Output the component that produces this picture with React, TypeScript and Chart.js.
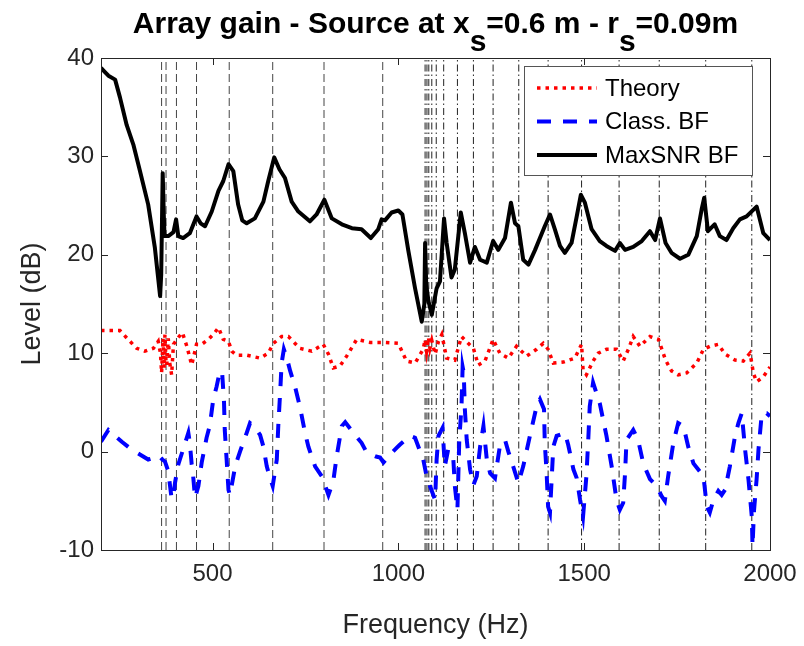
import React, { useEffect, useRef } from 'react';
import { Chart, registerables } from 'chart.js';

Chart.register(...registerables);

// ---------- text ----------
const TITLE_PARTS = [
  { text: 'Array gain - Source at x', sub: false },
  { text: 's', sub: true },
  { text: '=0.6 m - r', sub: false },
  { text: 's', sub: true },
  { text: '=0.09m', sub: false },
];
const X_TITLE = 'Frequency (Hz)';
const Y_TITLE = 'Level (dB)';
const SERIES_LABELS = ['Theory', 'Class. BF', 'MaxSNR BF'];

// ---------- axes ----------
const X_MIN = 200;
const X_MAX = 2000;
const Y_MIN = -10;
const Y_MAX = 40;
const X_TICKS = [500, 1000, 1500, 2000];
const Y_TICKS = [-10, 0, 10, 20, 30, 40];

// ---------- modal frequencies (vertical lines) ----------
const MODES_DASHED = [363, 375, 403, 457, 545, 662, 800, 958];
const MODES_DASHDOT = [1072, 1077, 1082, 1090, 1102, 1122, 1159, 1202, 1255, 1324, 1403, 1493, 1594, 1702, 1827, 1951];

// ---------- Theory ----------
const THEORY_F = [200, 251, 273, 296, 318, 341, 354, 360, 363, 367, 370, 372, 375, 377, 381, 385, 390, 395, 408, 419, 431, 444, 457, 471, 489, 502, 516, 529, 543, 552, 565, 592, 628, 650, 664, 686, 704, 735, 767, 798, 812, 825, 843, 861, 888, 924, 960, 1000, 1022, 1045, 1067, 1072, 1076, 1081, 1085, 1090, 1099, 1108, 1117, 1130, 1152, 1170, 1188, 1202, 1215, 1233, 1255, 1273, 1296, 1318, 1345, 1372, 1390, 1403, 1417, 1444, 1475, 1493, 1497, 1506, 1524, 1538, 1560, 1587, 1605, 1619, 1632, 1650, 1677, 1700, 1719, 1735, 1753, 1776, 1803, 1821, 1838, 1861, 1879, 1906, 1928, 1946, 1951, 1955, 1964, 1982, 2000];
const THEORY_DB = [12.3, 12.3, 11.4, 10.5, 10.2, 10.5, 11.2, 10.0, 8.0, 11.5, 8.5, 11.9, 9.0, 8.8, 11.5, 9.0, 7.8, 10.9, 11.6, 12.1, 10.7, 8.8, 10.9, 10.9, 11.4, 11.9, 12.6, 11.4, 11.2, 10.2, 9.8, 9.8, 9.5, 10.0, 11.0, 11.7, 11.7, 10.5, 10.2, 10.9, 9.9, 8.5, 8.7, 9.7, 11.4, 11.1, 11.1, 11.0, 9.2, 9.0, 10.4, 11.4, 10.2, 11.6, 10.5, 11.3, 9.9, 11.2, 11.9, 9.5, 9.3, 11.7, 11.0, 10.5, 8.8, 9.2, 11.4, 10.0, 9.5, 10.7, 9.7, 10.4, 11.0, 10.4, 9.0, 9.1, 9.5, 10.9, 8.3, 7.8, 9.2, 10.0, 10.4, 10.4, 9.2, 10.4, 11.7, 10.7, 11.7, 11.4, 9.3, 8.2, 7.8, 8.0, 9.0, 10.4, 10.7, 10.9, 9.9, 9.3, 9.2, 10.0, 9.0, 8.0, 7.1, 7.6, 8.6];

// ---------- Class. BF ----------
const CLASS_F = [200, 220, 256, 283, 327, 345, 355, 365, 372, 381, 390, 395, 399, 408, 419, 435, 439, 444, 448, 453, 462, 471, 484, 493, 502, 511, 520, 526, 531, 533, 538, 543, 547, 561, 574, 592, 601, 612, 628, 637, 646, 655, 662, 673, 677, 682, 686, 692, 700, 709, 722, 735, 749, 758, 776, 794, 812, 825, 834, 848, 857, 879, 901, 915, 940, 951, 960, 978, 996, 1004, 1031, 1045, 1054, 1067, 1076, 1085, 1099, 1103, 1108, 1119, 1125, 1134, 1148, 1152, 1159, 1164, 1170, 1173, 1176, 1179, 1184, 1193, 1202, 1211, 1220, 1229, 1238, 1247, 1260, 1273, 1287, 1296, 1309, 1323, 1336, 1354, 1372, 1381, 1392, 1394, 1399, 1403, 1408, 1417, 1426, 1448, 1457, 1471, 1480, 1489, 1497, 1506, 1511, 1515, 1524, 1542, 1560, 1574, 1587, 1596, 1605, 1610, 1614, 1632, 1645, 1659, 1677, 1695, 1708, 1717, 1726, 1740, 1753, 1767, 1780, 1794, 1821, 1830, 1838, 1847, 1861, 1870, 1879, 1892, 1906, 1915, 1924, 1933, 1942, 1951, 1953, 1957, 1964, 1969, 1978, 1991, 2000];
const CLASS_DB = [1.0, 2.2, 1.0, 0.2, -0.8, -0.6, -0.4, -0.8, -1.0, -2.0, -4.8, -4.5, -3.2, -1.3, 0.0, 1.9, 0.9, -1.3, -2.5, -4.7, -3.5, -1.1, 1.4, 2.7, 5.3, 6.6, 8.2, 8.0, 5.0, 2.2, -0.8, -3.9, -4.4, -1.5, 0.0, 1.9, 2.9, 2.6, 1.7, 0.5, -1.5, -2.7, -3.5, -0.8, 2.6, 6.0, 9.0, 10.4, 9.5, 8.2, 6.6, 4.6, 1.9, 0.5, -1.5, -2.5, -4.4, -3.0, -0.5, 2.6, 3.0, 1.9, 0.9, -0.1, -0.5, -0.6, -1.1, -0.3, 0.4, 0.7, 1.6, 1.4, 0.5, -0.8, -2.5, -3.5, -4.9, -0.8, 1.6, 2.4, -1.5, 0.2, -0.8, -3.5, -5.9, 1.2, 4.6, 8.6, 8.0, 4.3, 1.2, -1.8, -3.4, -2.5, 0.5, 2.6, -0.8, -2.2, -2.7, 0.5, 1.2, 0.0, -1.5, -3.2, -1.5, 1.6, 4.6, 5.3, 4.3, 0.9, -2.2, -5.6, -6.2, 0.5, 1.6, 1.9, 0.7, -1.8, -2.7, -4.9, -6.6, -2.5, 1.2, 4.6, 7.0, 4.9, 1.6, -1.5, -4.9, -5.9, -5.2, -2.2, 1.2, 2.2, 1.2, -1.2, -2.8, -3.5, -4.5, -5.0, -2.5, 0.9, 2.9, 2.6, 0.5, -1.2, -2.5, -5.6, -6.2, -5.0, -4.0, -4.4, -3.9, -1.5, 1.6, 2.9, 3.9, 0.2, -2.8, -6.6, -9.6, -6.0, -2.8, 0.2, 3.9, 3.9, 3.6];

// ---------- MaxSNR BF ----------
const MAXSNR_F = [200, 210, 220, 238, 251, 269, 287, 305, 327, 345, 359, 362, 366, 369, 371, 381, 395, 402, 408, 421, 439, 457, 468, 480, 498, 516, 529, 543, 556, 569, 580, 592, 614, 637, 650, 666, 680, 695, 713, 731, 762, 780, 801, 821, 848, 875, 901, 926, 946, 955, 964, 982, 1000, 1011, 1027, 1045, 1063, 1070, 1072, 1075, 1081, 1090, 1103, 1112, 1123, 1130, 1143, 1152, 1168, 1179, 1193, 1206, 1220, 1238, 1255, 1269, 1287, 1303, 1314, 1323, 1336, 1350, 1368, 1381, 1394, 1408, 1421, 1435, 1448, 1466, 1480, 1491, 1502, 1520, 1542, 1560, 1583, 1596, 1610, 1632, 1655, 1677, 1691, 1704, 1719, 1735, 1758, 1780, 1803, 1816, 1823, 1833, 1851, 1865, 1883, 1901, 1919, 1937, 1964, 1982, 2000];
const MAXSNR_DB = [39.0, 38.6, 38.2, 37.8, 36.0, 33.2, 31.2, 28.5, 25.1, 20.7, 15.8, 18.0, 28.3, 24.0, 21.9, 21.9, 22.3, 23.6, 21.9, 21.7, 22.2, 23.9, 23.2, 22.9, 24.4, 26.5, 27.5, 29.2, 28.5, 25.1, 23.5, 23.2, 23.7, 25.4, 27.5, 29.9, 28.7, 27.8, 25.4, 24.4, 23.4, 24.1, 25.6, 23.7, 23.1, 22.7, 22.6, 21.7, 22.6, 23.6, 23.5, 24.3, 24.5, 24.1, 20.4, 16.6, 13.2, 15.0, 21.2, 17.0, 15.3, 13.9, 16.6, 17.3, 23.7, 21.2, 17.7, 18.5, 24.3, 22.2, 19.2, 20.8, 19.5, 19.2, 21.4, 20.5, 21.7, 25.3, 23.2, 22.9, 19.5, 19.0, 20.5, 21.7, 22.9, 24.1, 22.6, 20.9, 20.2, 21.2, 23.9, 26.1, 25.3, 22.6, 21.4, 20.9, 20.4, 21.2, 20.5, 20.8, 21.4, 22.4, 21.5, 23.7, 21.2, 20.2, 19.6, 20.0, 21.9, 24.6, 25.8, 22.4, 23.1, 21.9, 21.5, 22.7, 23.6, 23.9, 24.9, 22.2, 21.5];

const FONT = '"Liberation Sans", Arial, Helvetica, sans-serif';
const AXIS_COLOR = '#262626';

const toPoints = (xs: number[], ys: number[]) => xs.map((x, i) => ({ x, y: ys[i] }));

const titlePlugin = {
  id: 'subscriptTitle',
  afterDraw(chart: any) {
    const { ctx, chartArea } = chart;
    ctx.save();
    ctx.font = `bold 30px ${FONT}`;
    ctx.fillStyle = '#000';
    ctx.textBaseline = 'alphabetic';
    ctx.textAlign = 'left';
    const widths = TITLE_PARTS.map((p) => ctx.measureText(p.text).width);
    const total = widths.reduce((a, b) => a + b, 0);
    let x = (chartArea.left + chartArea.right) / 2 - total / 2;
    TITLE_PARTS.forEach((p, i) => {
      ctx.fillText(p.text, x, p.sub ? 51 : 33);
      x += widths[i];
    });
    ctx.restore();
  },
};

const boxPlugin = {
  id: 'matlabBox',
  afterDatasetsDraw(chart: any) {
    const { ctx, chartArea, scales } = chart;
    const { left, right, top, bottom } = chartArea;
    ctx.save();
    ctx.strokeStyle = AXIS_COLOR;
    ctx.lineWidth = 1;
    ctx.strokeRect(Math.round(left) + 0.5, Math.round(top) + 0.5, Math.round(right - left), Math.round(bottom - top));
    const tl = 7;
    ctx.beginPath();
    X_TICKS.forEach((v) => {
      const px = Math.round(scales.x.getPixelForValue(v)) + 0.5;
      ctx.moveTo(px, bottom);
      ctx.lineTo(px, bottom - tl);
      ctx.moveTo(px, top);
      ctx.lineTo(px, top + tl);
    });
    Y_TICKS.forEach((v) => {
      const py = Math.round(scales.y.getPixelForValue(v)) + 0.5;
      ctx.moveTo(left, py);
      ctx.lineTo(left + tl, py);
      ctx.moveTo(right, py);
      ctx.lineTo(right - tl, py);
    });
    ctx.stroke();
    ctx.restore();
  },
};

const legendPlugin = {
  id: 'insideLegend',
  afterDraw(chart: any) {
    const { ctx, chartArea } = chart;
    const bx = chartArea.right - 246;
    const by = chartArea.top + 8;
    const bw = 228;
    const bh = 109;
    ctx.save();
    ctx.fillStyle = '#fff';
    ctx.fillRect(bx, by, bw, bh);
    ctx.strokeStyle = '#555';
    ctx.lineWidth = 1;
    ctx.strokeRect(Math.round(bx) + 0.5, Math.round(by) + 0.5, bw, bh);
    ctx.font = `24px ${FONT}`;
    ctx.textBaseline = 'middle';
    ctx.textAlign = 'left';
    for (let i = 0; i < 3; i++) {
      const ds = chart.data.datasets[i];
      const y = by + 22 + i * 33.5;
      ctx.save();
      ctx.strokeStyle = ds.borderColor;
      ctx.lineWidth = ds.borderWidth;
      ctx.lineCap = 'butt';
      ctx.setLineDash(ds.borderDash || []);
      ctx.beginPath();
      ctx.moveTo(bx + 13, y);
      ctx.lineTo(bx + 73, y);
      ctx.stroke();
      ctx.restore();
      ctx.fillStyle = '#000';
      ctx.fillText(ds.label, bx + 81, y + 1);
    }
    ctx.restore();
  },
};

export default function App() {
  const canvasRef = useRef<HTMLCanvasElement | null>(null);

  useEffect(() => {
    const canvas = canvasRef.current;
    if (!canvas) return;

    const modeSets = [
      ...MODES_DASHED.map((f) => ({ f, dash: [8, 4], color: '#444' })),
      ...MODES_DASHDOT.map((f) => ({ f, dash: [7, 3, 1.5, 3], color: '#222' })),
    ];

    const datasets: any[] = [
      {
        label: SERIES_LABELS[0],
        data: toPoints(THEORY_F, THEORY_DB),
        borderColor: '#ff0000',
        borderWidth: 3.5,
        borderDash: [3.5, 5],
        borderCapStyle: 'butt',
        pointRadius: 0,
        tension: 0,
      },
      {
        label: SERIES_LABELS[1],
        data: toPoints(CLASS_F, CLASS_DB),
        borderColor: '#0000ff',
        borderWidth: 4,
        borderDash: [14, 12],
        borderCapStyle: 'butt',
        pointRadius: 0,
        tension: 0,
      },
      {
        label: SERIES_LABELS[2],
        data: toPoints(MAXSNR_F, MAXSNR_DB),
        borderColor: '#000000',
        borderWidth: 4,
        pointRadius: 0,
        tension: 0,
        borderJoinStyle: 'round',
      },
      ...modeSets.map((m) => ({
        label: 'mode',
        data: [
          { x: m.f, y: Y_MIN },
          { x: m.f, y: Y_MAX },
        ],
        borderColor: m.color,
        borderWidth: 1,
        borderDash: m.dash,
        pointRadius: 0,
      })),
    ];

    const chart = new Chart(canvas, {
      type: 'line',
      data: { datasets },
      options: {
        animation: false,
        responsive: false,
        devicePixelRatio: 1,
        layout: { padding: { top: 58, right: 34, left: 0, bottom: 0 } },
        plugins: {
          legend: { display: false },
          tooltip: { enabled: false },
          title: { display: false },
        },
        scales: {
          x: {
            type: 'linear',
            min: X_MIN,
            max: X_MAX,
            grid: { display: false, drawTicks: false },
            border: { display: false },
            afterBuildTicks: (scale: any) => {
              scale.ticks = X_TICKS.map((v) => ({ value: v }));
            },
            afterFit: (scale: any) => {
              scale.height = 96;
              scale.paddingLeft = 0;
              scale.paddingRight = 0;
            },
            ticks: {
              color: AXIS_COLOR,
              font: { family: FONT, size: 24 },
              padding: 10,
              maxRotation: 0,
              autoSkip: false,
              callback: (v: any) => String(v),
            },
            title: {
              display: true,
              text: X_TITLE,
              color: AXIS_COLOR,
              font: { family: FONT, size: 27 },
              padding: { top: 0, bottom: 4 },
            },
          },
          y: {
            type: 'linear',
            min: Y_MIN,
            max: Y_MAX,
            grid: { display: false, drawTicks: false },
            border: { display: false },
            afterBuildTicks: (scale: any) => {
              scale.ticks = Y_TICKS.map((v) => ({ value: v }));
            },
            afterFit: (scale: any) => {
              scale.width = 101;
              scale.paddingTop = 0;
              scale.paddingBottom = 0;
            },
            ticks: {
              color: AXIS_COLOR,
              font: { family: FONT, size: 24 },
              padding: 7,
              autoSkip: false,
              callback: (v: any) => String(v),
            },
            title: {
              display: true,
              text: Y_TITLE,
              color: AXIS_COLOR,
              font: { family: FONT, size: 27 },
              padding: { top: 16, bottom: 0 },
            },
          },
        },
      },
      plugins: [boxPlugin, legendPlugin, titlePlugin],
    });

    return () => chart.destroy();
  }, []);

  return (
    <div style={{ position: 'fixed', left: 0, top: 0, width: 804, height: 646, background: '#fff' }}>
      <canvas ref={canvasRef} width={804} height={646} style={{ display: 'block', width: 804, height: 646 }} />
    </div>
  );
}
